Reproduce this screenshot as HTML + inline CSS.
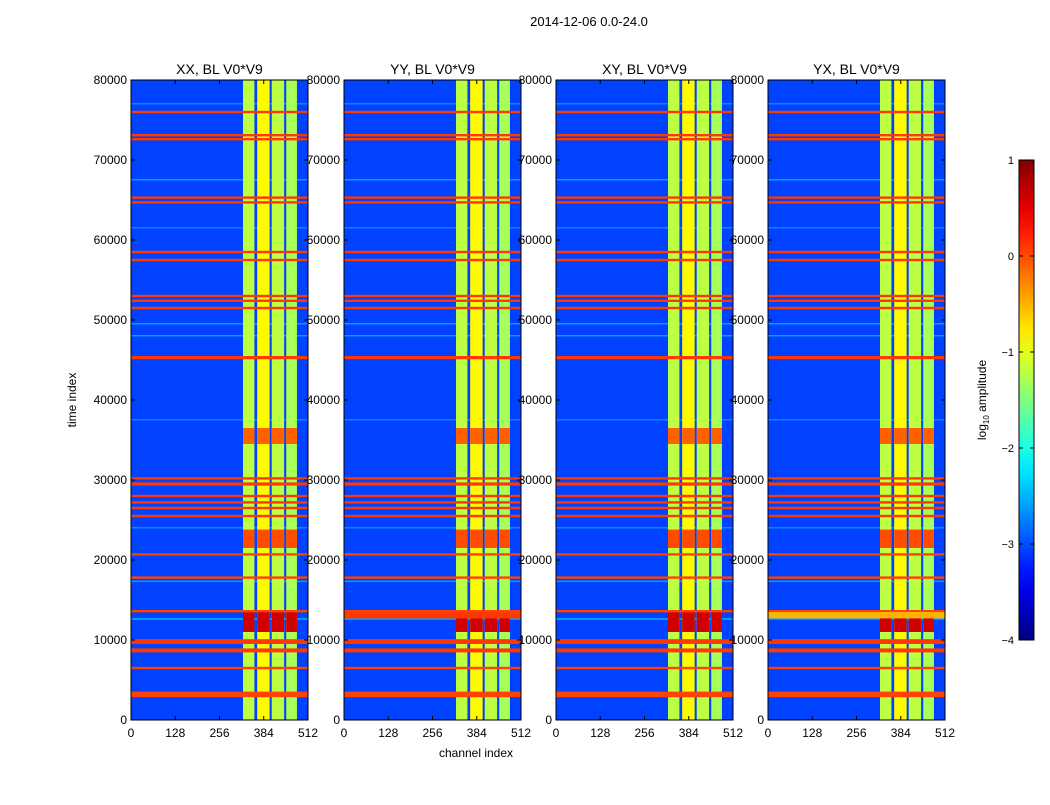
<!DOCTYPE html>
<html><head><meta charset="utf-8"><style>
body{margin:0;background:#fff;font-family:"Liberation Sans",sans-serif}
svg text{font-family:"Liberation Sans",sans-serif}
</style></head><body>
<svg id="c" width="1050" height="800" xmlns="http://www.w3.org/2000/svg"></svg>
<script>
const titles=["XX, BL V0*V9","YY, BL V0*V9","XY, BL V0*V9","YX, BL V0*V9"];
const yTicks=[0,10000,20000,30000,40000,50000,60000,70000,80000];
const xTicks=[0,128,256,384,512];
const cbTicks=[1,0,-1,-2,-3,-4];
// band segments [chStart, chEnd, log amplitude]
const bandSegs=[[324,357,-1.2],[365,401,-0.85],[407,443,-1.2],[449,480,-1.3]];
// hot time ranges [tStart,tEnd,log amplitude]
const hotBlocks=[[11000,13500,0.6],[21500,23800,0.0],[34500,36500,-0.1]];
// RFI rows [time, thickness(time units), log amplitude]
const rfiRows=[[3200,700,0.05],[6500,300,0.05],[8700,500,0.1],[9800,600,0.1],[13600,300,0.05],[17800,300,0.05],[20700,300,0.05],[25500,300,0.1],[26500,300,0.1],[27200,300,0.1],[28000,300,0.1],[29500,400,0.1],[30200,300,0.1],[45300,400,0.1],[51500,300,0.1],[52400,300,0.1],[53000,300,0.1],[57500,300,0.1],[58500,300,0.1],[64700,300,0.1],[65300,300,0.1],[72600,300,0.1],[73100,300,0.1],[76000,300,0.1]];
// faint light rows (time, amplitude)
const lightRows=[[12600,-2.5],[17300,-2.6],[24000,-2.7],[37500,-2.7],[48000,-2.6],[49500,-2.6],[61500,-2.7],[67500,-2.6],[77000,-2.7]];
const panelX=[131,344,556,768], W=177, Y0=80, H=640;
const svg=document.getElementById('c'), NS="http://www.w3.org/2000/svg";
function jet(v){ // v in [-4,1]
  let t=(v+4)/5; t=Math.max(0,Math.min(1,t));
  const f=x=>Math.round(255*Math.max(0,Math.min(1,1.5-Math.abs(4*t-x))));
  return `rgb(${f(3)},${f(2)},${f(1)})`;}
function el(tag,attrs,parent){const e=document.createElementNS(NS,tag);for(const k in attrs)e.setAttribute(k,attrs[k]);(parent||svg).appendChild(e);return e;}
function txt(x,y,s,anchor,size,parent){const t=el('text',{x:x,y:y,'text-anchor':anchor,'font-size':size,fill:'#000'},parent);t.textContent=s;return t;}
panelX.forEach((x0,p)=>{
  const xs=ch=>x0+ch/512*W, ys=t=>Y0+H-t/80000*H;
  const g=el('g',{});
  
  
  el('rect',{x:x0,y:Y0,width:W,height:H,fill:jet(-3.05)},g);
  lightRows.forEach(r=>{const l=el('rect',{x:x0,y:ys(r[0])-1,width:W,height:1.5,fill:jet(r[1])},g);});
  bandSegs.forEach(s=>{const b=el('rect',{x:xs(s[0]),y:Y0,width:xs(s[1])-xs(s[0]),height:H,fill:jet(s[2])},g);
    hotBlocks.forEach(h=>{const r=el('rect',{x:xs(s[0]),y:ys(h[1]),width:xs(s[1])-xs(s[0]),height:ys(h[0])-ys(h[1]),fill:jet(h[2])},g);});});
  rfiRows.forEach(r=>{const h=Math.max(2,r[1]/80000*H);const l=el('rect',{x:x0,y:ys(r[0])-h/2,width:W,height:h,fill:jet(r[2])},g);});
  if(p==1||p==3){const l=el('rect',{x:x0,y:ys(13500),width:W,height:ys(12700)-ys(13500),fill:jet(p==1?0.1:-0.5)},g);}
  el('rect',{x:x0,y:Y0,width:W,height:H,fill:'none',stroke:'#000','stroke-width':1},g);
  yTicks.forEach(v=>{el('line',{x1:x0,x2:x0+4,y1:ys(v),y2:ys(v),stroke:'#000'},g);el('line',{x1:x0+W,x2:x0+W-4,y1:ys(v),y2:ys(v),stroke:'#000'},g);
    const t=txt(x0-4,ys(v)+4,String(v),'end',12,g);});
  xTicks.forEach(v=>{el('line',{x1:xs(v),x2:xs(v),y1:Y0+H,y2:Y0+H-4,stroke:'#000'},g);el('line',{x1:xs(v),x2:xs(v),y1:Y0,y2:Y0+4,stroke:'#000'},g);
    const t=txt(xs(v),Y0+H+17,String(v),'middle',12,g);});
  const tt=txt(x0+W/2,74,titles[p],'middle',14,g);
});
const st=txt(589,26,"2014-12-06 0.0-24.0",'middle',13);
const yl=txt(0,0,"time index",'middle',12);yl.setAttribute('transform','translate(76,400) rotate(-90)');
const xl=txt(476,757,"channel index",'middle',12);
// colorbar
const defs=el('defs',{});const lg=el('linearGradient',{id:'jg',x1:0,y1:1,x2:0,y2:0},defs);
for(let i=0;i<=20;i++){el('stop',{offset:i/20,'stop-color':jet(-4+5*i/20)},lg);}
const cb=el('rect',{x:1019,y:160,width:15,height:480,fill:'url(#jg)',stroke:'#000'});
cbTicks.forEach(v=>{const y=160+(1-v)/5*480;el('line',{x1:1019,x2:1023,y1:y,y2:y,stroke:'#000'});el('line',{x1:1034,x2:1030,y1:y,y2:y,stroke:'#000'});
  const t=txt(1014,y+4,v<0?'\u2212'+(-v):String(v),'end',11);});
const cl=el('text',{transform:'translate(986,400) rotate(-90)','text-anchor':'middle','font-size':12});
cl.innerHTML='log<tspan font-size="8" dy="3">10</tspan><tspan dy="-3"> amplitude</tspan>';

</script>
</body></html>
